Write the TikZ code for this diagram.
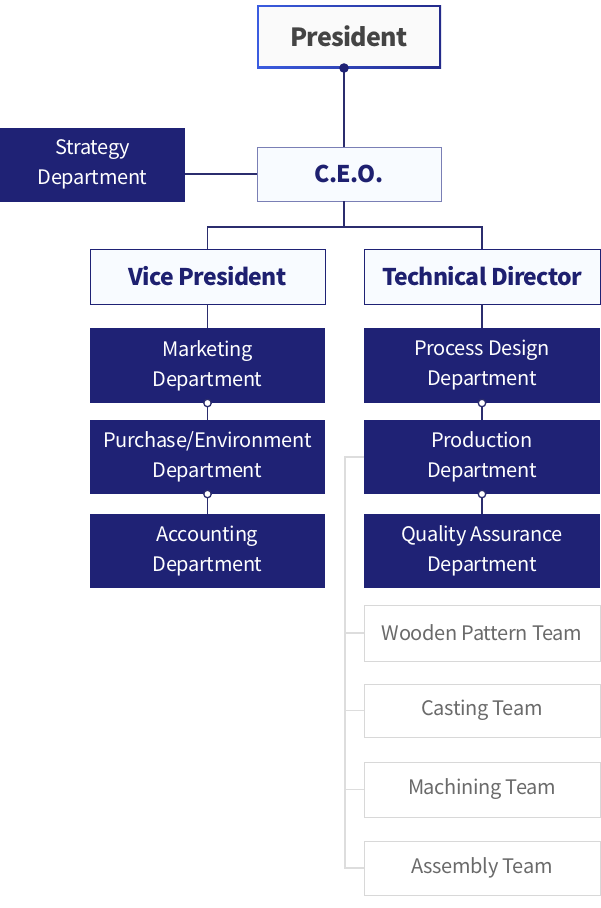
\documentclass[tikz,border=0pt]{standalone}
\usepackage{fontspec}
\setmainfont{Noto Sans CJK KR}[LetterSpace=-1.7]
\newfontfamily\hfont{Noto Sans CJK KR}[LetterSpace=-3]
\definecolor{navy}{HTML}{1F2275}
\definecolor{navytext}{HTML}{1E2070}
\definecolor{lightfill}{HTML}{F8FBFF}
\definecolor{ceoborder}{HTML}{7A7FB5}
\definecolor{teamborder}{HTML}{D8D8D8}
\definecolor{teamtext}{HTML}{6A6A6A}
\definecolor{bracket}{HTML}{DDDDDD}
\definecolor{linec}{HTML}{2B2D6E}
\definecolor{presL}{HTML}{3A5CE0}
\definecolor{presR}{HTML}{232A8A}
\definecolor{prestext}{HTML}{444444}
\begin{document}
\begin{tikzpicture}[x=1pt,y=-1pt,
  every node/.style={outer sep=0pt, inner sep=0pt},
  navybox/.style={fill=navy, text=white, minimum width=236, align=center,
    font=\fontsize{20}{30}\selectfont},
  headbox/.style={fill=lightfill, draw=navy, line width=0.9pt, text=navytext,
    minimum width=235, minimum height=55, font=\hfont\fontsize{23}{28}\selectfont\bfseries},
  teambox/.style={fill=white, draw=teamborder, line width=1pt, text=teamtext,
    minimum width=236, font=\fontsize{20}{24}\selectfont},
  conn/.style={draw=linec, line width=1.1pt},
  brk/.style={draw=bracket, line width=1.2pt},
  smalldot/.style={circle, fill=white, draw=linec, line width=1.3pt, minimum size=7.5},
]
\useasboundingbox (0,0) rectangle (601,908);

% President with gradient border
\shade[left color=presL, right color=presR] (257,5) rectangle (441,68);
\node[fill=white!98!black, minimum width=180, minimum height=59, text=prestext,
  font=\hfont\fontsize{25}{30}\selectfont\bfseries] (pres) at (349,36.5) {President};

% CEO
\node[fill=lightfill, draw=ceoborder, line width=1pt, text=navytext,
  minimum width=184, minimum height=54, font=\hfont\fontsize{23}{28}\selectfont\bfseries]
  (ceo) at (349,174) {C.E.O.};

% Strategy
\node[navybox, minimum width=185, minimum height=74] (strat) at (92.5,164.5) {Strategy\\Department};

% Heads
\node[headbox] (vp) at (207.5,276.5) {Vice President};
\node[headbox, minimum width=236] (td) at (482,276.5) {Technical Director};

% Left departments
\node[navybox, minimum width=235, minimum height=75] (mkt) at (207.5,365.5) {Marketing\\Department};
\node[navybox, minimum width=235, minimum height=74] (pur) at (207.5,457) {Purchase/Environment\\Department};
\node[navybox, minimum width=235, minimum height=74] (acc) at (207.5,551) {Accounting\\Department};

% Right departments
\node[navybox, minimum height=75] (proc) at (482,365.5) {Process Design\\Department};
\node[navybox, minimum height=74] (prod) at (482,457) {Production\\Department};
\node[navybox, minimum height=74] (qa) at (482,551) {Quality Assurance\\Department};

% Teams
\node[teambox, minimum height=56] (wood) at (482,633) {Wooden Pattern Team};
\node[teambox, minimum height=53] (cast) at (482,710.5) {Casting Team};
\node[teambox, minimum height=55] (mach) at (482,789.5) {Machining Team};
\node[teambox, minimum height=54] (asm) at (482,868) {Assembly Team};

% Connectors
\coordinate (pdot) at (344,68);
\coordinate (ceob) at (344,201);
\coordinate (split) at (344,227);
\draw[conn] (pdot) -- (pdot |- ceo.north);
\draw[conn] (ceo.west) -- (ceo.west -| strat.east);
\draw[conn] (ceob) -- (split);
\draw[conn] (vp.north) -- (vp.north |- split) -- (td.north |- split) -- (td.north);
\draw[conn] (vp.south) -- (mkt.north);
\draw[conn] (mkt.south) -- (pur.north);
\draw[conn] (pur.south) -- (acc.north);
\draw[conn] (td.south) -- (proc.north);
\draw[conn] (proc.south) -- (prod.north);
\draw[conn] (prod.south) -- (qa.north);

% Bracket
\coordinate (bt) at (345,457);
\coordinate (bb) at (345,868);
\draw[brk] (prod.west) -- (bt) -- (bb) -- (asm.west);
\draw[brk] (wood.west) -- (wood.west -| bt);
\draw[brk] (cast.west) -- (cast.west -| bt);
\draw[brk] (mach.west) -- (mach.west -| bt);

% Dots
\fill[navy] (pdot) circle (4.8);
\node[smalldot] (d1) at (mkt.south) {};
\node[smalldot] (d2) at (pur.south) {};
\node[smalldot] (d3) at (proc.south) {};
\node[smalldot] (d4) at (prod.south) {};
\end{tikzpicture}
\end{document}
